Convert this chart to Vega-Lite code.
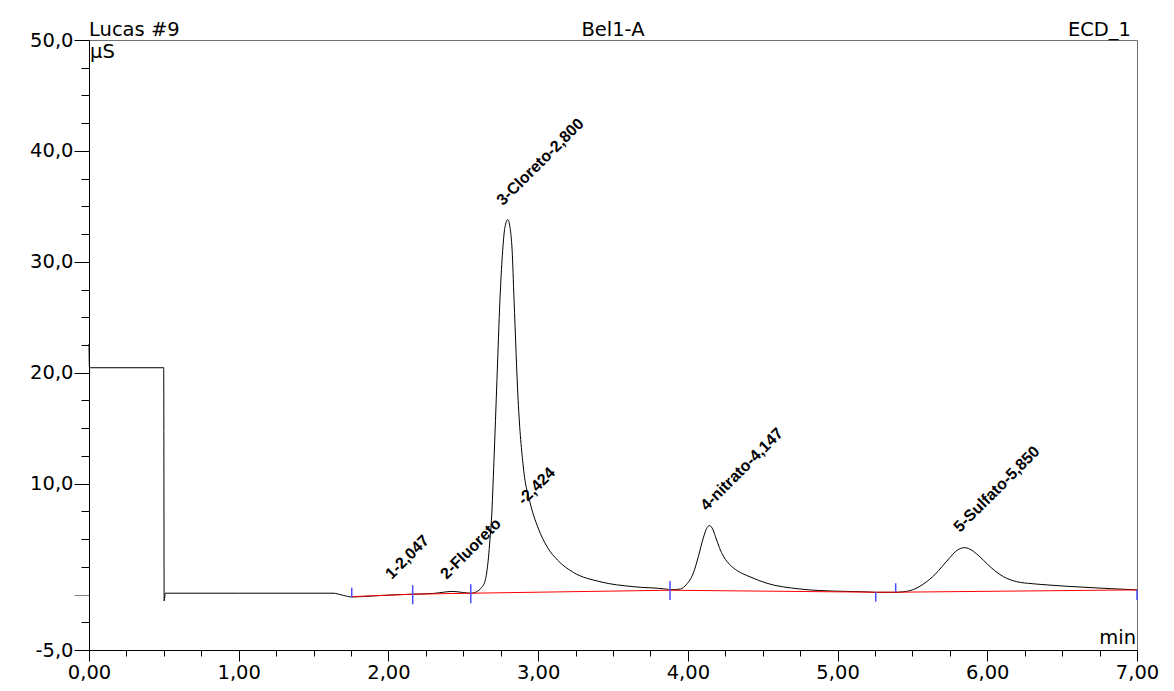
{
  "$schema": "https://vega.github.io/schema/vega-lite/v6.json",
  "autosize": "none",
  "width": 1048,
  "height": 610,
  "padding": {"left": 89, "top": 40, "right": 37, "bottom": 41},
  "background": "white",
  "config": {"view": {"stroke": "#707070", "strokeWidth": 1}},
  "datasets": {
    "curve": [
      {"t": 0, "v": 22.6}, {"t": 0.003, "v": 20.45}, {"t": 0.499, "v": 20.45}, {"t": 0.502, "v": -0.58}, {"t": 0.51, "v": 0.12},
      {"t": 1.0, "v": 0.12}, {"t": 1.63, "v": 0.12}, {"t": 1.7, "v": -0.08}, {"t": 1.755, "v": -0.22}, {"t": 1.9, "v": -0.12},
      {"t": 2.05, "v": -0.02}, {"t": 2.162, "v": 0.03}, {"t": 2.3, "v": 0.1}, {"t": 2.43, "v": 0.28}, {"t": 2.5, "v": 0.18},
      {"t": 2.55, "v": 0.12}, {"t": 2.59, "v": 0.26}, {"t": 2.62, "v": 0.6}, {"t": 2.645, "v": 1.2}, {"t": 2.656, "v": 1.95},
      {"t": 2.668, "v": 3.3}, {"t": 2.678, "v": 4.9}, {"t": 2.688, "v": 6.7}, {"t": 2.705, "v": 12.1}, {"t": 2.725, "v": 19.4},
      {"t": 2.745, "v": 26.6}, {"t": 2.761, "v": 30.6}, {"t": 2.778, "v": 33.1}, {"t": 2.797, "v": 33.8}, {"t": 2.812, "v": 33.1},
      {"t": 2.826, "v": 31.1}, {"t": 2.839, "v": 26.6}, {"t": 2.866, "v": 17.6}, {"t": 2.901, "v": 11.5}, {"t": 2.946, "v": 8.3},
      {"t": 3.0, "v": 6.0}, {"t": 3.06, "v": 4.3}, {"t": 3.13, "v": 3.1}, {"t": 3.235, "v": 2.0}, {"t": 3.413, "v": 1.16}, {"t": 3.634, "v": 0.71},
      {"t": 3.859, "v": 0.48}, {"t": 3.881, "v": 0.43}, {"t": 3.95, "v": 0.5}, {"t": 3.99, "v": 0.9}, {"t": 4.037, "v": 1.95},
      {"t": 4.07, "v": 3.42}, {"t": 4.103, "v": 5.1}, {"t": 4.125, "v": 5.95}, {"t": 4.143, "v": 6.22}, {"t": 4.162, "v": 6.0},
      {"t": 4.185, "v": 5.2}, {"t": 4.21, "v": 4.25}, {"t": 4.24, "v": 3.4}, {"t": 4.28, "v": 2.7}, {"t": 4.33, "v": 2.15}, {"t": 4.415, "v": 1.6}, {"t": 4.527, "v": 1.02},
      {"t": 4.749, "v": 0.5}, {"t": 5.0, "v": 0.3}, {"t": 5.195, "v": 0.24}, {"t": 5.255, "v": 0.2}, {"t": 5.388, "v": 0.2},
      {"t": 5.417, "v": 0.22}, {"t": 5.506, "v": 0.45}, {"t": 5.584, "v": 1.05}, {"t": 5.65, "v": 1.8}, {"t": 5.7, "v": 2.55}, {"t": 5.751, "v": 3.35},
      {"t": 5.79, "v": 3.9}, {"t": 5.82, "v": 4.15}, {"t": 5.847, "v": 4.23}, {"t": 5.875, "v": 4.15}, {"t": 5.907, "v": 3.9}, {"t": 5.951, "v": 3.4},
      {"t": 6.0, "v": 2.75}, {"t": 6.05, "v": 2.15}, {"t": 6.107, "v": 1.62}, {"t": 6.197, "v": 1.16}, {"t": 6.3, "v": 0.98}, {"t": 6.419, "v": 0.85},
      {"t": 6.642, "v": 0.66}, {"t": 7.0, "v": 0.42}
    ],
    "baseline": [
      {"t": 1.755, "v": -0.19}, {"t": 2.162, "v": 0.03}, {"t": 2.55, "v": 0.12}, {"t": 3.881, "v": 0.39},
      {"t": 5.255, "v": 0.21}, {"t": 5.388, "v": 0.21}, {"t": 7.0, "v": 0.42}
    ],
    "delims": [
      {"t": 1.755, "top": 0.62, "bottom": -0.24}, {"t": 2.162, "top": 0.84, "bottom": -0.88},
      {"t": 2.55, "top": 0.93, "bottom": -0.79}, {"t": 3.881, "top": 1.23, "bottom": -0.49},
      {"t": 5.255, "top": 0.21, "bottom": -0.64}, {"t": 5.388, "top": 1.02, "bottom": 0.21},
      {"t": 7.0, "top": 0.42, "bottom": -0.49}
    ],
    "peaks": [
      {"t": 2.022, "v": 1.32, "label": "1-2,047"},
      {"t": 2.389, "v": 1.32, "label": "2-Fluoreto"},
      {"t": 2.906, "v": 8.0, "label": "-2,424"},
      {"t": 2.765, "v": 35.0, "label": "3-Cloreto-2,800"},
      {"t": 4.126, "v": 7.48, "label": "4-nitrato-4,147"},
      {"t": 5.818, "v": 5.56, "label": "5-Sulfato-5,850"}
    ]
  },
  "layer": [
    {
      "data": {"name": "curve"},
      "mark": {"type": "line", "color": "black", "strokeWidth": 1, "interpolate": "monotone"},
      "encoding": {
        "x": {"field": "t", "type": "quantitative", "scale": {"domain": [0, 7], "nice": false, "zero": false},
          "axis": {"values": [0, 1, 2, 3, 4, 5, 6, 7], "labelExpr": "replace(format(datum.value, '.2f'), '.', ',')",
            "title": null, "grid": false, "tickSize": 11, "tickColor": "black", "domainColor": "black",
            "labelFont": "DejaVu Sans", "labelFontSize": 19.5, "labelColor": "black", "labelPadding": 2, "labelFlush": false, "labelOverlap": false}},
        "y": {"field": "v", "type": "quantitative", "scale": {"domain": [-5, 50], "nice": false, "zero": false},
          "axis": {"values": [-5, 0, 10, 20, 30, 40, 50], "labelExpr": "datum.value == 0 ? '' : datum.value < 0 ? '-' + replace(format(-datum.value, '.1f'), '.', ',') : replace(format(datum.value, '.1f'), '.', ',')",
            "title": null, "grid": false, "tickSize": 15,
            "tickColor": {"condition": {"test": "datum.value == 0", "value": "#808080"}, "value": "black"},
            "domainColor": "black", "labelFont": "DejaVu Sans", "labelFontSize": 19.5, "labelColor": "black", "labelPadding": 1, "labelFlush": false, "labelOverlap": false}}
      }
    },
    {
      "data": {"name": "baseline"},
      "mark": {"type": "line", "color": "#ff0000", "strokeWidth": 1},
      "encoding": {
        "x": {"field": "t", "type": "quantitative",
          "axis": {"orient": "bottom", "values": [0.25, 0.5, 0.75, 1.25, 1.5, 1.75, 2.25, 2.5, 2.75, 3.25, 3.5, 3.75, 4.25, 4.5, 4.75, 5.25, 5.5, 5.75, 6.25, 6.5, 6.75],
            "labels": false, "domain": false, "grid": false, "title": null, "tickSize": 6, "tickColor": "black"}},
        "y": {"field": "v", "type": "quantitative",
          "axis": {"orient": "left", "values": [-2.5, 2.5, 5, 7.5, 12.5, 15, 17.5, 22.5, 25, 27.5, 32.5, 35, 37.5, 42.5, 45, 47.5],
            "labels": false, "domain": false, "grid": false, "title": null, "tickSize": 8, "tickColor": "black"}}
      }
    },
    {
      "data": {"name": "delims"},
      "mark": {"type": "rule", "color": "#4d4dff", "strokeWidth": 1.5},
      "encoding": {
        "x": {"field": "t", "type": "quantitative", "axis": null},
        "y": {"field": "top", "type": "quantitative", "axis": null},
        "y2": {"field": "bottom"}
      }
    },
    {
      "data": {"name": "peaks"},
      "mark": {"type": "text", "angle": 315, "align": "left", "baseline": "alphabetic", "font": "Liberation Sans", "fontWeight": "bold", "fontSize": 16, "color": "black"},
      "encoding": {
        "x": {"field": "t", "type": "quantitative", "axis": null},
        "y": {"field": "v", "type": "quantitative", "axis": null},
        "text": {"field": "label"}
      }
    },
    {
      "data": {"values": [
        {"t": 0, "v": 50, "label": "Lucas #9", "pos": "left"},
        {"t": 3.5, "v": 50, "label": "Bel1-A", "pos": "center"},
        {"t": 7, "v": 50, "label": "ECD_1", "pos": "right"}
      ]},
      "mark": {"type": "text", "baseline": "alphabetic", "dy": -4, "font": "DejaVu Sans", "fontSize": 19.5, "color": "black",
        "align": {"expr": "datum.pos"}, "dx": {"expr": "datum.pos == 'right' ? -6 : 0"}},
      "encoding": {
        "x": {"field": "t", "type": "quantitative", "axis": null},
        "y": {"field": "v", "type": "quantitative", "axis": null},
        "text": {"field": "label"}
      }
    },
    {
      "data": {"values": [{"t": 0, "v": 50, "label": "µS"}]},
      "mark": {"type": "text", "baseline": "top", "align": "left", "dx": 1, "dy": 3, "font": "DejaVu Sans", "fontSize": 19.5, "color": "black"},
      "encoding": {
        "x": {"field": "t", "type": "quantitative", "axis": null},
        "y": {"field": "v", "type": "quantitative", "axis": null},
        "text": {"field": "label"}
      }
    },
    {
      "data": {"values": [{"t": 7, "v": -5, "label": "min"}]},
      "mark": {"type": "text", "baseline": "alphabetic", "align": "right", "dx": -1, "dy": -6, "font": "DejaVu Sans", "fontSize": 19.5, "color": "black"},
      "encoding": {
        "x": {"field": "t", "type": "quantitative", "axis": null},
        "y": {"field": "v", "type": "quantitative", "axis": null},
        "text": {"field": "label"}
      }
    }
  ],
  "resolve": {"axis": {"x": "independent", "y": "independent"}}
}
